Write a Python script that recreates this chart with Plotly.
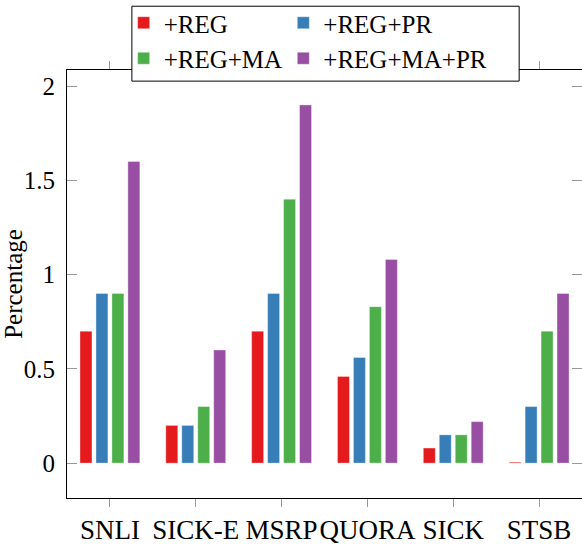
import plotly.graph_objects as go

categories = ["SNLI", "SICK-E", "MSRP", "QUORA", "SICK", "STSB"]
reg = [0.7, 0.2, 0.7, 0.46, 0.08, 0.005]
reg_pr = [0.9, 0.2, 0.9, 0.56, 0.15, 0.3]
reg_ma = [0.9, 0.3, 1.4, 0.83, 0.15, 0.7]
reg_ma_pr = [1.6, 0.6, 1.9, 1.08, 0.22, 0.9]

series = [
    ("+REG", reg, "#e41a1c", "legend"),
    ("+REG+PR", reg_pr, "#377eb8", "legend2"),
    ("+REG+MA", reg_ma, "#4daf4a", "legend"),
    ("+REG+MA+PR", reg_ma_pr, "#984ea3", "legend2"),
]

font = "Liberation Serif"
fig = go.Figure()
for name, vals, col, lg in series:
    fig.add_trace(go.Bar(
        x=categories, y=vals, name=name, legend=lg,
        marker=dict(color=col, line=dict(width=0.6, color="rgba(255,255,255,0.6)")),
    ))

legend_common = dict(
    orientation="v", yanchor="top", xanchor="left", y=1.163,
    bgcolor="rgba(0,0,0,0)", borderwidth=0,
    font=dict(family=font, size=25), traceorder="normal",
    itemwidth=30, tracegroupgap=0,
)

fig.update_layout(
    width=582, height=546,
    margin=dict(l=67, r=0, t=69, b=48),
    paper_bgcolor="white", plot_bgcolor="white",
    font=dict(family=font, size=24, color="black"),
    barmode="group", bargap=0.256, bargroupgap=0.25,
    showlegend=True,
    legend=dict(x=0.11, **legend_common),
    legend2=dict(x=0.42, **legend_common),
    shapes=[dict(
        type="rect", xref="paper", yref="paper",
        x0=0.126, x1=0.878, y0=0.974, y1=1.149,
        line=dict(color="black", width=1), fillcolor="white", layer="above",
    )],
)
fig.update_xaxes(
    range=[-0.5, 5.5], showline=True, linecolor="black", linewidth=1, mirror="allticks",
    ticks="outside", ticklen=8, tickcolor="#999999", tickwidth=1, tickangle=0,
    showgrid=False, tickfont=dict(family=font, size=27), automargin=False,
)
fig.update_yaxes(
    range=[-0.185, 2.085], showline=True, linecolor="black", linewidth=1, mirror="allticks",
    ticks="inside", ticklen=10, tickcolor="#999999", tickwidth=1,
    tickvals=[0, 0.5, 1, 1.5, 2], ticktext=["0", "0.5", "1", "1.5", "2"],
    showgrid=False, zeroline=False, tickfont=dict(family=font, size=25),
    ticklabelstandoff=6, automargin=False,
    title=dict(text="Percentage", font=dict(family=font, size=25), standoff=0),
)
fig.write_html("out.html", config={"displayModeBar": False},
               post_script="document.body.style.margin='0';document.body.style.padding='0';")
